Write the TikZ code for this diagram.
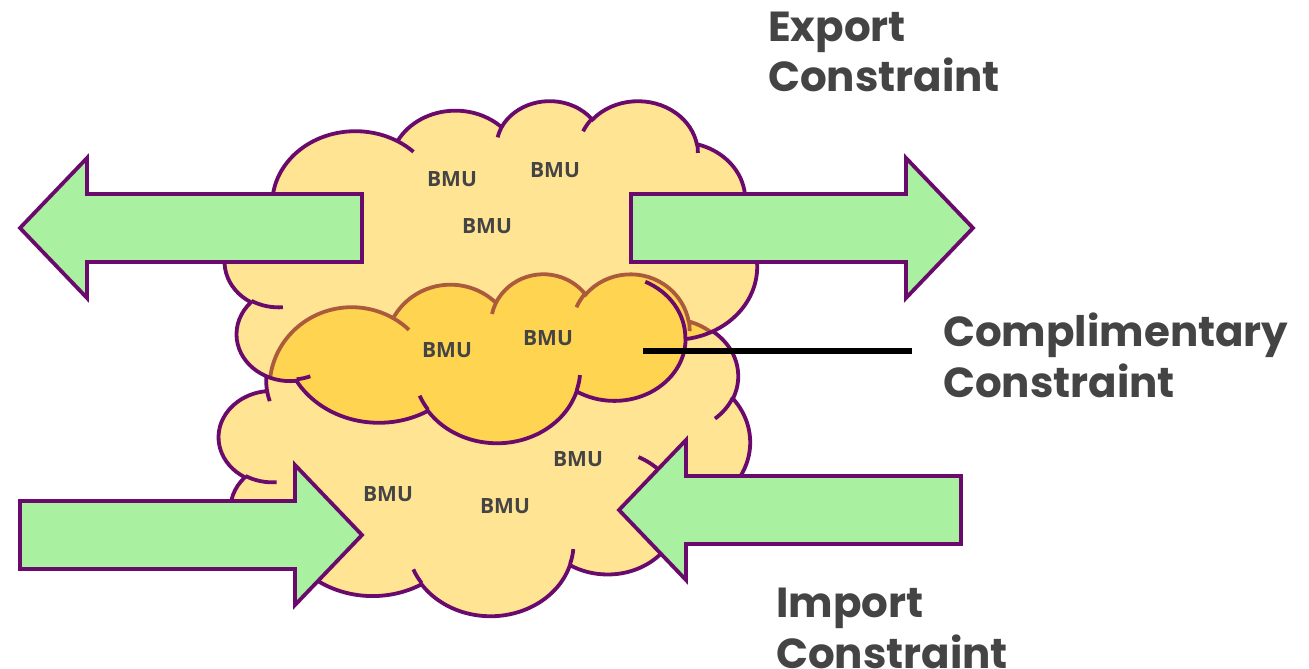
\documentclass[tikz,border=0pt]{standalone}
\usepackage{fontspec}
\usepackage{tikz}
\newfontfamily\labelfont{Poppins}
\newfontfamily\bmufont{Open Sans}

\definecolor{cloudfill}{HTML}{FFE493}
\definecolor{corefill}{HTML}{FFD451}
\definecolor{cloudline}{HTML}{6A0A6C}
\definecolor{coreline}{HTML}{AB5A3C}
\definecolor{arrowfill}{HTML}{A9F1A0}
\definecolor{labelgray}{HTML}{444444}

\tikzset{
  % cloud drawn in a 432 x 432 box, then stretched to its frame
  cloud frame/.style args={#1/#2/#3/#4}{shift={(#1,#2)}, xscale=#3/432, yscale=#4/432},
  cloud outline/.style={insert path={(39.00,143.70)
    arc[start angle=172.25, end angle=300.37, x radius=67.53, y radius=91.90]
    arc[start angle=-152.01, end angle=-45.43, x radius=53.33, y radius=72.67]
    arc[start angle=-153.49, end angle=-37.34, x radius=43.65, y radius=59.45]
    arc[start angle=-139.71, end angle=-10.21, x radius=48.57, y radius=65.95]
    arc[start angle=-74.74, end angle=23.21, x radius=53.33, y radius=72.73]
    arc[start angle=-37.52, end angle=81.86, x radius=67.75, y radius=92.20]
    arc[start angle=0.46, end angle=121.98, x radius=57.85, y radius=78.67]
    arc[start angle=16.84, end angle=146.23, x radius=67.52, y radius=92.15]
    arc[start angle=58.98, end angle=150.20, x radius=77.20, y radius=105.43]
    arc[start angle=83.31, end angle=223.12, x radius=43.60, y radius=59.18]
    arc[start angle=120.36, end angle=264.11, x radius=43.45, y radius=59.45]
    -- cycle}},
  cloud curls/.style={insert path={
    (46.93,261.77) arc[start angle=85.55, end angle=120.36, x radius=43.45, y radius=59.45]
    (69.28,348.99) arc[start angle=68.24, end angle=83.31, x radius=43.60, y radius=59.18]
    (164.78,390.90) arc[start angle=146.23, end angle=158.48, x radius=67.52, y radius=92.15]
    (288.27,347.51) arc[start angle=4.74, end angle=16.84, x radius=67.52, y radius=92.15]
    (341.29,229.54) arc[start angle=-64.02, end angle=0.46, x radius=57.85, y radius=78.67]
    (417.98,153.54) arc[start angle=23.21, end angle=49.63, x radius=53.33, y radius=72.73]
    (383.24,54.26) arc[start angle=-10.21, end angle=0.82, x radius=48.57, y radius=65.95]
    (290.78,39.52) arc[start angle=-156.30, end angle=-139.71, x radius=48.57, y radius=65.95]
    (221.41,47.20) arc[start angle=-167.73, end angle=-153.40, x radius=43.65, y radius=59.45]
    (140.00,51.92) arc[start angle=-59.63, end angle=-45.67, x radius=67.53, y radius=91.90]
    (41.27,157.89) arc[start angle=163.20, end angle=172.25, x radius=67.53, y radius=91.90]}},
  cloudstroke/.style={draw=cloudline, line width=3.8pt},
  corestroke/.style={draw=coreline, line width=3.8pt},
  arrowbody/.style={draw=cloudline, fill=arrowfill, line width=3.8pt},
  bmu/.style={text=labelgray, font=\bmufont\bfseries\fontsize{21}{25}\selectfont, inner sep=0pt},
  constraint label/.style={text=labelgray, font=\labelfont\bfseries\fontsize{42}{51}\selectfont,
    align=left, inner sep=0pt, anchor=base west},
  pics/blockarrow/.style={code={
    \draw[arrowbody] (0,0) -- (-67,-70) -- (-67,-34) -- (-342,-34) -- (-342,34)
      -- (-67,34) -- (-67,70) -- cycle;}},
}

\begin{document}
\begin{tikzpicture}[x=1pt, y=-1pt]
  \useasboundingbox (0,0) rectangle (1309,669);

  % import cloud, then export cloud over it
  \path[cloudstroke, fill=cloudfill, cloud frame=219/278/531/337, cloud outline, cloud curls];
  \fill[cloudfill, cloud frame=225/100/532/342, cloud outline];

  % shared part, only where it lies inside the export cloud
  \begin{scope}
    \clip[cloud frame=225/100/532/342, cloud outline];
    \path[corestroke, fill=corefill, cloud frame=223/273/525/375, cloud outline, cloud curls];
  \end{scope}
  \path[cloudstroke, cloud frame=225/100/532/342, cloud outline, cloud curls];

  % flows
  \pic[rotate=180] at (20,228) {blockarrow};
  \pic at (973,228) {blockarrow};
  \pic at (362,535) {blockarrow};
  \pic[rotate=180] at (619,510) {blockarrow};

  \foreach \name/\where in {bmu1/{452,179}, bmu2/{555,170}, bmu3/{487,226},
      bmu4/{447,350}, bmu5/{548,338}, bmu6/{578,459}, bmu7/{388,494}, bmu8/{505,506}}
    \node[bmu] (\name) at (\where) {BMU};

  % labels sit on the baseline of their last line
  \node[constraint label] (export) at (768,92) {Export\\Constraint};
  \node[constraint label] (comp) at (943,397) {Complimentary\\Constraint};
  \node[constraint label] (import) at (776,668) {Import\\Constraint};

  \coordinate (corepoint) at (643,351);
  \draw[line width=5.5pt, shorten >=31pt] (corepoint) -- (corepoint -| comp.west);
\end{tikzpicture}
\end{document}
